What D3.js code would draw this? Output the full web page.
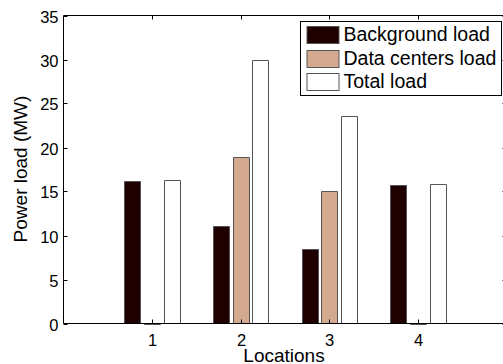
<!DOCTYPE html>
<html>
<head>
<meta charset="utf-8">
<title>Power load</title>
<script src="https://d3js.org/d3.v7.min.js"></script>
<style>
  body { margin: 0; background: #fff; }
  svg text { font-family: "Liberation Sans", Arial, Helvetica, sans-serif; fill: #000; }
  .bar { stroke: #555; stroke-width: 1; }
</style>
</head>
<body>
<div id="chart"></div>
<script>
// data
const locations = [1, 2, 3, 4];
const seriesNames = ["Background load", "Data centers load", "Total load"];
const backgroundLoad = [16.2, 11.1, 8.5, 15.7];
const dataCentersLoad = [0, 18.9, 15.1, 0];
const totalLoad = [16.3, 30.0, 23.6, 15.8];
const yTicks = [0, 5, 10, 15, 20, 25, 30, 35];
const seriesColors = ["#1f0000", "#d3aa90", "#ffffff"];

const width = 503, height = 364;
const plotLeft = 63.5, plotTop = 15.5, plotBottom = 323.5, plotRight = 506.5;

const svg = d3.select("#chart").append("svg")
  .attr("width", width).attr("height", height);

const x = d3.scaleLinear().domain([0, 5]).range([plotLeft, plotRight]);
const y = d3.scaleLinear().domain([0, 35]).range([plotBottom, plotTop]);

const series = [backgroundLoad, dataCentersLoad, totalLoad];
const offset = 0.222, barW = 0.18;

// bars (paths so that zero-height bars still show their edge)
series.forEach(function(vals, s) {
  svg.append("g").selectAll("path")
    .data(vals)
    .enter().append("path")
    .attr("class", "bar")
    .attr("fill", seriesColors[s])
    .attr("d", function(v, i) {
      const c = locations[i] + (s - 1) * offset;
      const x0 = Math.round(x(c - barW / 2)) + 0.5, x1 = Math.round(x(c + barW / 2)) + 0.5;
      const y0 = y(0), y1 = Math.round(y(v)) + 0.5;
      return "M" + x0 + "," + y0 + "V" + y1 + "H" + x1 + "V" + y0;
    });
});

// axes box, matlab style ticks pointing inward
const axisG = svg.append("g");
axisG.append("path")
  .attr("d", "M" + plotRight + "," + plotBottom + "H" + plotLeft + "V" + plotTop + "H" + plotRight + "V" + plotBottom)
  .attr("fill", "none").attr("stroke", "#000").attr("stroke-width", 1);

yTicks.forEach(function(t) {
  const ty = Math.round(y(t)) + 0.5;
  axisG.append("line").attr("x1", plotLeft).attr("x2", plotLeft + 4).attr("y1", ty).attr("y2", ty)
    .attr("stroke", "#000");
  axisG.append("line").attr("x1", plotRight).attr("x2", plotRight - 4).attr("y1", ty).attr("y2", ty)
    .attr("stroke", "#000");
  axisG.append("text")
    .attr("x", plotLeft - 5).attr("y", ty + 6)
    .attr("text-anchor", "end")
    .attr("font-size", "16.5px")
    .text(t);
});

locations.forEach(function(t) {
  const tx = Math.round(x(t)) + 0.5;
  axisG.append("line").attr("x1", tx).attr("x2", tx).attr("y1", plotBottom).attr("y2", plotBottom - 4)
    .attr("stroke", "#000");
  axisG.append("line").attr("x1", tx).attr("x2", tx).attr("y1", plotTop).attr("y2", plotTop + 4)
    .attr("stroke", "#000");
  axisG.append("text")
    .attr("x", tx).attr("y", 345.5)
    .attr("text-anchor", "middle")
    .attr("font-size", "16.5px")
    .text(t);
});

// axis labels
svg.append("text")
  .attr("x", 284).attr("y", 361.5)
  .attr("text-anchor", "middle")
  .attr("font-size", "19px")
  .text("Locations");

svg.append("text")
  .attr("transform", "translate(27,169) rotate(-90)")
  .attr("text-anchor", "middle")
  .attr("font-size", "19px")
  .text("Power load (MW)");

// legend
const legend = svg.append("g");
legend.append("rect")
  .attr("x", 300.5).attr("y", 21.5).attr("width", 201).attr("height", 74)
  .attr("fill", "#fff").attr("stroke", "#000");

seriesNames.forEach(function(name, i) {
  const ry = 26 + i * 23.5;
  legend.append("rect")
    .attr("class", "bar")
    .attr("x", 307).attr("y", Math.round(ry) + 0.5)
    .attr("width", 32).attr("height", 17)
    .attr("fill", seriesColors[i]);
  legend.append("text")
    .attr("x", 343.5).attr("y", ry + 15)
    .attr("font-size", "19.5px")
    .text(name);
});
</script>
</body>
</html>
